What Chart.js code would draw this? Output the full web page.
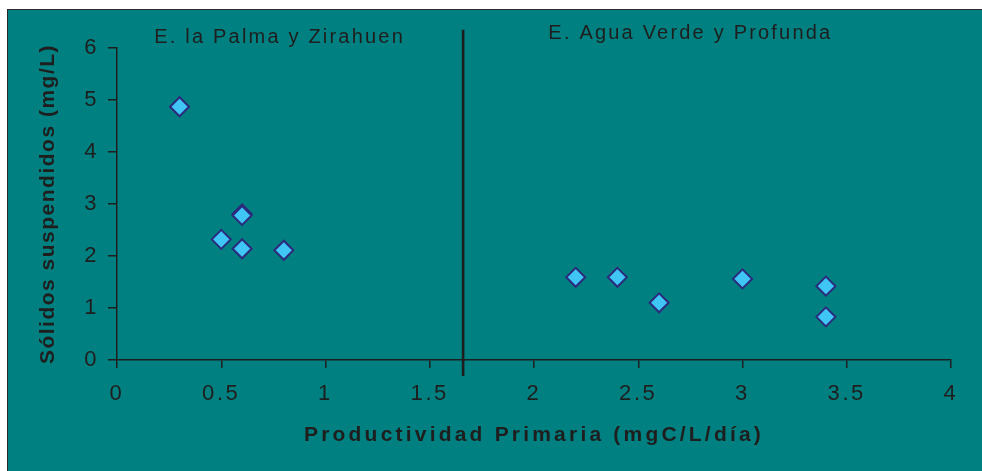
<!DOCTYPE html>
<html>
<head>
<meta charset="utf-8">
<script src="https://cdn.jsdelivr.net/npm/chart.js@4"></script>
<style>
  html, body { margin: 0; padding: 0; background: #ffffff; width: 982px; height: 471px; overflow: hidden; }
  #panel { position: absolute; left: 7px; top: 9px; right: 0; bottom: 0; background: #008080;
           border-top: 1.5px solid #2a2a2a; border-left: 1.5px solid #2a2a2a; }
  #wrap { position: absolute; left: 0; top: 0; width: 982px; height: 471px; }
</style>
</head>
<body>
<div id="panel"></div>
<div id="wrap"><canvas id="c"></canvas></div>
<script>
// ---- data ----
const productividad = [0.3, 0.6, 0.6, 0.5, 0.6, 0.8, 2.2, 2.4, 2.6, 3.0, 3.4, 3.4];
const solidos       = [4.87, 2.81, 2.78, 2.32, 2.14, 2.11, 1.59, 1.59, 1.10, 1.56, 1.42, 0.83];
const xTickLabels = ['0', '0.5', '1', '1.5', '2', '2.5', '3', '3.5', '4'];
const yTickLabels = ['0', '1', '2', '3', '4', '5', '6'];
const dividerX = [1.66, 1.66];
const dividerY = [-0.31, 6.35];
const groupLabels = ['E. la Palma y Zirahuen', 'E. Agua Verde y Profunda'];
const groupLabelX = [0.78, 2.75];
const groupLabelY = [6.21, 6.27];
const xTitle = 'Productividad Primaria (mgC/L/día)';
const yTitle = 'Sólidos suspendidos (mg/L)';

const FONT = "'Liberation Sans', Arial, sans-serif";
const INK = '#1e1e1e';

const points = productividad.map((x, i) => ({ x, y: solidos[i] }));
const divider = dividerX.map((x, i) => ({ x, y: dividerY[i] }));

const spacingPlugin = {
  id: 'spacing',
  beforeUpdate(chart) { chart.ctx.letterSpacing = '2.6px'; },
  beforeDraw(chart) {
    chart.ctx.letterSpacing = '2.6px';
    Object.values(chart.scales).forEach(s => {
      if (s._wrappedTitle) return;
      const orig = s.drawTitle.bind(s);
      const sp = s.axis === 'x' ? '3.2px' : '1.5px';
      s.drawTitle = function () {
        const ctx = this.ctx;
        const prev = ctx.letterSpacing;
        ctx.letterSpacing = sp;
        orig();
        ctx.letterSpacing = prev;
      };
      s._wrappedTitle = true;
    });
  }
};

const groupLabelPlugin = {
  id: 'groupLabels',
  afterDraw(chart) {
    const ctx = chart.ctx;
    const xs = chart.scales.x, ys = chart.scales.y;
    ctx.save();
    ctx.letterSpacing = '2.2px';
    ctx.font = '20px ' + FONT;
    ctx.fillStyle = INK;
    ctx.textAlign = 'center';
    ctx.textBaseline = 'middle';
    groupLabels.forEach((t, i) => {
      ctx.fillText(t, xs.getPixelForValue(groupLabelX[i]), ys.getPixelForValue(groupLabelY[i]));
    });
    ctx.restore();
  }
};

new Chart(document.getElementById('c'), {
  type: 'scatter',
  data: {
    datasets: [
      {
        label: 'Muestras',
        data: points,
        pointStyle: 'rectRot',
        pointRadius: 9.5,
        pointHoverRadius: 9.5,
        pointBackgroundColor: '#3fc6f4',
        pointBorderColor: '#2b2a7c',
        pointBorderWidth: 2,
        order: 1
      },
      {
        label: 'División',
        data: divider,
        showLine: true,
        borderColor: INK,
        borderWidth: 2.6,
        pointRadius: 0,
        clip: false,
        order: 2
      }
    ]
  },
  options: {
    responsive: true,
    maintainAspectRatio: false,
    animation: false,
    events: [],
    layout: { padding: { top: 48, right: 31, bottom: 0, left: 0 } },
    plugins: { legend: { display: false }, tooltip: { enabled: false } },
    scales: {
      x: {
        type: 'linear',
        min: 0, max: 4,
        ticks: { stepSize: 0.5, color: INK, padding: 13, font: { family: FONT, size: 22 },
                 callback: (v, i) => xTickLabels[i] },
        grid: { drawOnChartArea: false, drawTicks: true, tickLength: 8, color: INK, lineWidth: 1.5 },
        border: { display: true, color: INK, width: 1.5 },
        title: { display: true, text: xTitle, color: INK, padding: { top: 0, bottom: 23 },
                 font: { family: FONT, size: 21, weight: 'bold' } },
        afterFit(s) { s.height = 111; }
      },
      y: {
        type: 'linear',
        min: 0, max: 6,
        ticks: { stepSize: 1, color: INK, padding: 9, font: { family: FONT, size: 22 },
                 callback: (v, i) => yTickLabels[i] },
        grid: { drawOnChartArea: false, drawTicks: true, tickLength: 9, color: INK, lineWidth: 1.5 },
        border: { display: true, color: INK, width: 1.5 },
        title: { display: true, text: yTitle, color: INK, padding: { top: 36, bottom: 0 },
                 font: { family: FONT, size: 21, weight: 'bold' } },
        afterFit(s) { s.width = 117; }
      }
    }
  },
  plugins: [spacingPlugin, groupLabelPlugin]
});
</script>
</body>
</html>
